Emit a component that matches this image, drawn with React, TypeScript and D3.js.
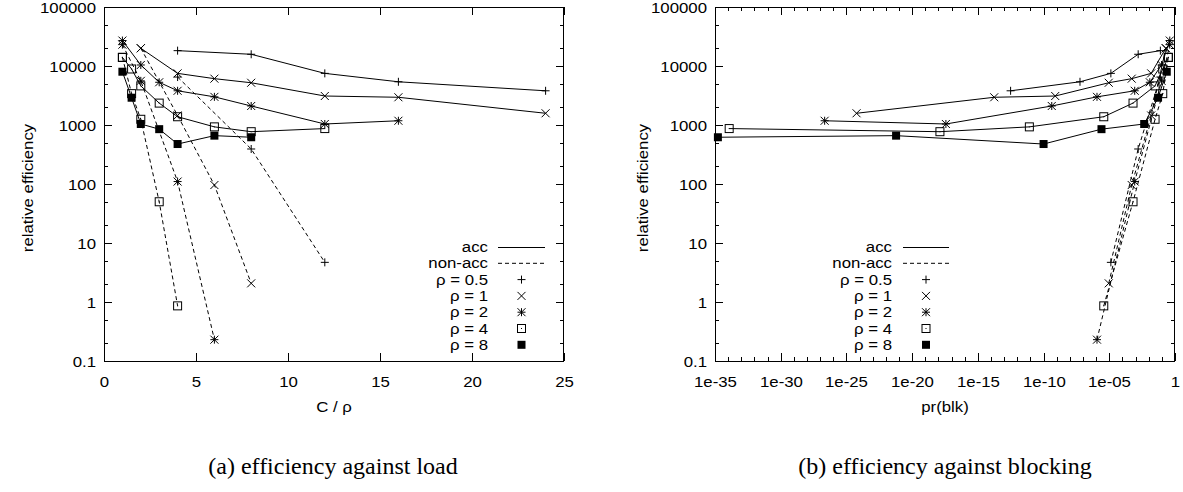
import React from 'react';
import * as d3 from 'd3';

// ---------- data ----------
const rhoLabels = ['ρ = 0.5', 'ρ = 1', 'ρ = 2', 'ρ = 4', 'ρ = 8'];
const markerKinds = ['plus', 'cross', 'star', 'box', 'fbox'];

// accessible ("acc") series: C/ρ, relative efficiency, pr(blk)
const acc05Load = [4, 8, 12, 16, 24];
const acc05Eff = [18200, 15800, 7500, 5400, 3800];
const acc05Blk = [7.7e-2, 1.58e-3, 1.32e-5, 5.9e-8, 3.1e-13];

const acc1Load = [2, 4, 6, 8, 12, 16, 24];
const acc1Eff = [20000, 7500, 6100, 5200, 3100, 2950, 1580];
const acc1Blk = [0.2, 1.54e-2, 5.1e-4, 9.1e-6, 7.7e-10, 1.76e-14, 5.9e-25];

const acc2Load = [1, 2, 3, 4, 6, 8, 12, 16];
const acc2Eff = [27000, 10400, 5300, 3800, 3000, 2100, 1040, 1180];
const acc2Blk = [0.4, 9.52e-2, 1.21e-2, 8.6e-4, 1.16e-6, 4.2e-10, 3.7e-18, 2.2e-27];

const acc4Load = [1, 1.5, 2, 3, 4, 6, 8, 12];
const acc4Eff = [14000, 8900, 4600, 2350, 1380, 930, 770, 870];
const acc4Blk = [0.311, 0.117, 3.04e-2, 6.4e-4, 3.8e-6, 8.3e-12, 1.3e-18, 1.2e-34];

const acc8Load = [1, 1.5, 2, 3, 4, 6, 8];
const acc8Eff = [8000, 2900, 1040, 850, 476, 660, 620];
const acc8Blk = [0.236, 5.14e-2, 4.53e-3, 2.55e-6, 1.0e-10, 6.0e-22, 1.66e-35];

// non-accessible ("non-acc") series
const non05Load = [4, 8, 12];
const non05Eff = [6500, 392, 4.7];
const non05Blk = [7.7e-2, 1.58e-3, 1.32e-5];

const non1Load = [2, 4, 6, 8];
const non1Eff = [20000, 1450, 96, 2.07];
const non1Blk = [0.2, 1.54e-2, 5.1e-4, 9.1e-6];

const non2Load = [1, 2, 4, 6];
const non2Eff = [23000, 5600, 110, 0.23];
const non2Blk = [0.4, 9.52e-2, 8.6e-4, 1.16e-6];

const non4Load = [1, 1.5, 2, 3, 4];
const non4Eff = [14000, 3400, 1250, 50, 0.86];
const non4Blk = [0.311, 0.117, 3.04e-2, 6.4e-4, 3.8e-6];

// axis ticks
const yMajor = [0.1, 1, 10, 100, 1000, 10000, 100000];
const yMajorLabels = ['0.1', '1', '10', '100', '1000', '10000', '100000'];
const yMinor = [0.2, 0.5, 2, 5, 20, 50, 200, 500, 2000, 5000, 20000, 50000];
const loadTicks = [0, 5, 10, 15, 20, 25];
const blkMajor = [1e-35, 1e-30, 1e-25, 1e-20, 1e-15, 1e-10, 1e-5, 1];
const blkMajorLabels = ['1e-35', '1e-30', '1e-25', '1e-20', '1e-15', '1e-10', '1e-05', '1'];
const blkMinorExp = [-34, -33, -32, -31, -29, -28, -27, -26, -24, -23, -22, -21, -19, -18, -17, -16, -14, -13, -12, -11, -9, -8, -7, -6, -4, -3, -2, -1];

type Series = { load: number[]; eff: number[]; blk: number[]; kind: string; dashed: boolean };

const series: Series[] = [
  { load: acc05Load, eff: acc05Eff, blk: acc05Blk, kind: markerKinds[0], dashed: false },
  { load: acc1Load, eff: acc1Eff, blk: acc1Blk, kind: markerKinds[1], dashed: false },
  { load: acc2Load, eff: acc2Eff, blk: acc2Blk, kind: markerKinds[2], dashed: false },
  { load: acc4Load, eff: acc4Eff, blk: acc4Blk, kind: markerKinds[3], dashed: false },
  { load: acc8Load, eff: acc8Eff, blk: acc8Blk, kind: markerKinds[4], dashed: false },
  { load: non05Load, eff: non05Eff, blk: non05Blk, kind: markerKinds[0], dashed: true },
  { load: non1Load, eff: non1Eff, blk: non1Blk, kind: markerKinds[1], dashed: true },
  { load: non2Load, eff: non2Eff, blk: non2Blk, kind: markerKinds[2], dashed: true },
  { load: non4Load, eff: non4Eff, blk: non4Blk, kind: markerKinds[3], dashed: true },
];

// ---------- layout ----------
const W = 1183;
const H = 492;
const TOP = 7;
const BOTTOM = 361;
const FONT = '"Liberation Sans", Arial, Helvetica, sans-serif';
const SERIF = '"Liberation Serif", "Times New Roman", serif';
const DASH = '4,3';
const SX = 1.12; // horizontal stretch of the sans text

const yScale = d3.scaleLog().domain([0.1, 100000]).range([BOTTOM, TOP]);
const xLoad = d3.scaleLinear().domain([0, 25]).range([104, 564]);
const xBlk = d3.scaleLog().domain([1e-35, 1]).range([715, 1175]);

function Marker({ kind, x, y }: { kind: string; x: number; y: number }) {
  const s = 4;
  if (kind === 'plus')
    return <path d={`M${x - s},${y}H${x + s}M${x},${y - s}V${y + s}`} stroke="#000" strokeWidth={1} fill="none" />;
  if (kind === 'cross')
    return <path d={`M${x - s},${y - s}L${x + s},${y + s}M${x - s},${y + s}L${x + s},${y - s}`} stroke="#000" strokeWidth={1} fill="none" />;
  if (kind === 'star')
    return (
      <path
        d={`M${x - s},${y}H${x + s}M${x},${y - s}V${y + s}M${x - s},${y - s}L${x + s},${y + s}M${x - s},${y + s}L${x + s},${y - s}`}
        stroke="#000"
        strokeWidth={1}
        fill="none"
      />
    );
  if (kind === 'box')
    return (
      <g>
        <rect x={x - s} y={y - s} width={2 * s} height={2 * s} stroke="#000" strokeWidth={1} fill="none" />
        <rect x={x - 0.5} y={y - 0.5} width={1} height={1} fill="#000" />
      </g>
    );
  return <rect x={x - s} y={y - s} width={2 * s} height={2 * s} fill="#000" />;
}

function SText(props: any) {
  const { x, y, anchor, children, rotate, size } = props;
  const tr = rotate
    ? `translate(${x},${y}) rotate(-90) scale(${SX},1)`
    : `translate(${x},${y}) scale(${SX},1)`;
  return (
    <text transform={tr} textAnchor={anchor || 'middle'} fontFamily={FONT} fontSize={size || 15} fill="#000">
      {children}
    </text>
  );
}

function Panel({ which }: { which: 'load' | 'blk' }) {
  const xs: any = which === 'load' ? xLoad : xBlk;
  const [x0, x1] = xs.range();
  const getX = (s: Series, i: number) => (which === 'load' ? xLoad(s.load[i]) : xBlk(s.blk[i]));
  const line = d3
    .line<[number, number]>()
    .x((d) => d[0])
    .y((d) => d[1]);

  const ticks: any[] = [];
  yMajor.forEach((v, i) => {
    const y = Math.round(yScale(v)) + 0.5;
    ticks.push(<path key={'ym' + i} d={`M${x0},${y}h8M${x1},${y}h-8`} stroke="#000" />);
    ticks.push(
      <SText key={'yl' + i} x={x0 - 8} y={y + 5} anchor="end">
        {yMajorLabels[i]}
      </SText>
    );
  });
  yMinor.forEach((v, i) => {
    const y = Math.round(yScale(v)) + 0.5;
    ticks.push(<path key={'yn' + i} d={`M${x0},${y}h4M${x1},${y}h-4`} stroke="#000" />);
  });
  if (which === 'load') {
    loadTicks.forEach((v, i) => {
      const x = Math.round(xLoad(v)) + 0.5;
      ticks.push(<path key={'xm' + i} d={`M${x},${BOTTOM}v-8M${x},${TOP}v8`} stroke="#000" />);
      ticks.push(
        <SText key={'xl' + i} x={x} y={BOTTOM + 26}>
          {String(v)}
        </SText>
      );
    });
  } else {
    blkMajor.forEach((v, i) => {
      const x = Math.round(xBlk(v)) + 0.5;
      ticks.push(<path key={'xm' + i} d={`M${x},${BOTTOM}v-8M${x},${TOP}v8`} stroke="#000" />);
      ticks.push(
        <SText key={'xl' + i} x={x} y={BOTTOM + 26}>
          {blkMajorLabels[i]}
        </SText>
      );
    });
    blkMinorExp.forEach((e, i) => {
      const x = Math.round(xBlk(Math.pow(10, e))) + 0.5;
      ticks.push(<path key={'xn' + i} d={`M${x},${BOTTOM}v-4M${x},${TOP}v4`} stroke="#000" />);
    });
  }

  const legX = which === 'load' ? 488 : 892;
  const legL0 = which === 'load' ? 498 : 903;
  const legL1 = which === 'load' ? 545 : 949;
  const legMid = (legL0 + legL1) / 2;
  const legY0 = 247;
  const legStep = 16.3;

  const cx = (x0 + x1) / 2;

  return (
    <g>
      {series.map((s, si) => {
        const pts = s.eff.map((e, i) => [getX(s, i), yScale(e)] as [number, number]);
        pts.sort((a, b) => a[0] - b[0]);
        return (
          <path
            key={'l' + si}
            d={line(pts) || ''}
            fill="none"
            stroke="#000"
            strokeWidth={1}
            strokeDasharray={s.dashed ? DASH : undefined}
          />
        );
      })}
      {series.map((s, si) =>
        s.eff.map((e, i) => <Marker key={'m' + si + '-' + i} kind={s.kind} x={getX(s, i)} y={yScale(e)} />)
      )}
      <rect x={x0 + 0.5} y={TOP + 0.5} width={x1 - x0 - 1} height={BOTTOM - TOP} fill="none" stroke="#000" />
      {ticks}
      {/* legend */}
      <SText x={legX} y={legY0 + 5} anchor="end">acc</SText>
      <path d={`M${legL0},${legY0 + 0.5}H${legL1}`} stroke="#000" />
      <SText x={legX} y={legY0 + legStep + 5} anchor="end">non-acc</SText>
      <path d={`M${legL0},${legY0 + legStep}H${legL1}`} stroke="#000" strokeDasharray={DASH} />
      {rhoLabels.map((lab, i) => (
        <g key={'lg' + i}>
          <SText x={legX} y={legY0 + legStep * (i + 2) + 5} anchor="end">
            {lab}
          </SText>
          <Marker kind={markerKinds[i]} x={legMid} y={legY0 + legStep * (i + 2)} />
        </g>
      ))}
      {/* axis titles */}
      <SText x={which === 'load' ? 33 : 648} y={(TOP + BOTTOM) / 2 + 4} rotate>
        relative efficiency
      </SText>
      <SText x={cx} y={BOTTOM + 51}>
        {which === 'load' ? 'C / ρ' : 'pr(blk)'}
      </SText>
      <text
        x={which === 'load' ? 333 : 945}
        y={474}
        textAnchor="middle"
        fontFamily={SERIF}
        fontSize={24}
        fill="#000"
      >
        {which === 'load' ? '(a) efficiency against load' : '(b) efficiency against blocking'}
      </text>
    </g>
  );
}

export default function App() {
  return (
    <svg
      width={W}
      height={H}
      viewBox={`0 0 ${W} ${H}`}
      style={{ position: 'absolute', left: 0, top: 0, background: '#fff' }}
    >
      <rect x={0} y={0} width={W} height={H} fill="#fff" />
      <Panel which="load" />
      <Panel which="blk" />
    </svg>
  );
}
